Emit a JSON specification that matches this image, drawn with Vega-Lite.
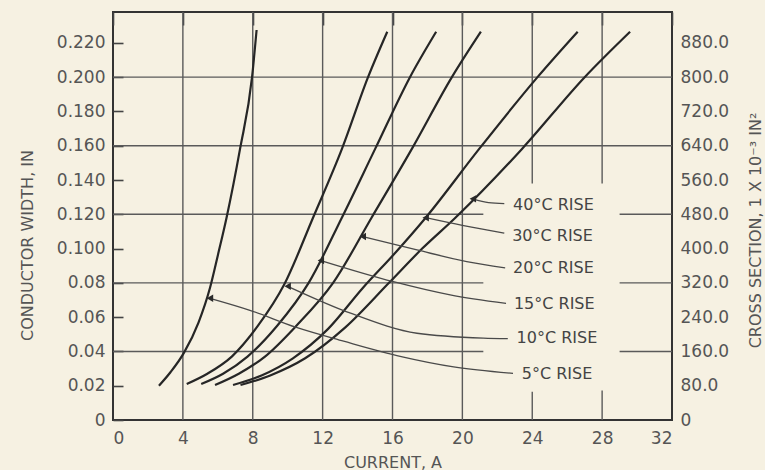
{
  "$schema": "https://vega.github.io/schema/vega-lite/v6.json",
  "width": 559,
  "height": 408,
  "autosize": {"type": "none"},
  "padding": {"left": 113, "top": 12, "right": 93, "bottom": 50},
  "background": "#f6f1e2",
  "config": {
    "view": {"stroke": "#333333", "strokeWidth": 2},
    "font": "DejaVu Sans",
    "axis": {
      "labelFont": "DejaVu Sans",
      "titleFont": "DejaVu Sans",
      "labelColor": "#555555",
      "titleColor": "#555555",
      "titleFontWeight": "normal",
      "labelFontSize": 17,
      "titleFontSize": 16,
      "ticks": false,
      "domain": false,
      "grid": true,
      "gridColor": "#444444",
      "gridWidth": 1.6,
      "gridOpacity": 1
    }
  },
  "datasets": {
    "hgrid": [
      {"y": 0.04, "x1": 0, "x2": 21.2}, {"y": 0.04, "x1": 29, "x2": 32},
      {"y": 0.08, "x1": 0, "x2": 21.2}, {"y": 0.08, "x1": 29, "x2": 32},
      {"y": 0.12, "x1": 0, "x2": 21.2}, {"y": 0.12, "x1": 29, "x2": 32},
      {"y": 0.16, "x1": 0, "x2": 32}, {"y": 0.2, "x1": 0, "x2": 32}
    ],
    "vgrid": [
      {"x": 4, "y1": 0, "y2": 0.238}, {"x": 8, "y1": 0, "y2": 0.238},
      {"x": 12, "y1": 0, "y2": 0.238}, {"x": 16, "y1": 0, "y2": 0.238},
      {"x": 20, "y1": 0, "y2": 0.238},
      {"x": 24, "y1": 0.138, "y2": 0.238}, {"x": 28, "y1": 0.138, "y2": 0.238},
      {"x": 24, "y1": 0, "y2": 0.0165}, {"x": 28, "y1": 0, "y2": 0.0172}
    ],
    "curves": [
      {"c": "5", "x": 2.63, "y": 0.02}, {"c": "5", "x": 3.3, "y": 0.028}, {"c": "5", "x": 4.05, "y": 0.039},
      {"c": "5", "x": 4.9, "y": 0.057}, {"c": "5", "x": 5.55, "y": 0.077}, {"c": "5", "x": 6.0, "y": 0.096},
      {"c": "5", "x": 6.5, "y": 0.118}, {"c": "5", "x": 7.27, "y": 0.158}, {"c": "5", "x": 7.96, "y": 0.2},
      {"c": "5", "x": 8.22, "y": 0.2275},
      {"c": "10", "x": 4.22, "y": 0.021}, {"c": "10", "x": 5.4, "y": 0.027}, {"c": "10", "x": 6.8, "y": 0.037},
      {"c": "10", "x": 8.3, "y": 0.055}, {"c": "10", "x": 9.8, "y": 0.079}, {"c": "10", "x": 11.45, "y": 0.118},
      {"c": "10", "x": 13.1, "y": 0.158}, {"c": "10", "x": 14.6, "y": 0.2}, {"c": "10", "x": 15.7, "y": 0.2265},
      {"c": "15", "x": 5.05, "y": 0.021}, {"c": "15", "x": 6.3, "y": 0.027}, {"c": "15", "x": 7.7, "y": 0.037},
      {"c": "15", "x": 9.4, "y": 0.055}, {"c": "15", "x": 11.2, "y": 0.08}, {"c": "15", "x": 13.1, "y": 0.118},
      {"c": "15", "x": 15.0, "y": 0.158}, {"c": "15", "x": 17.0, "y": 0.2}, {"c": "15", "x": 18.5, "y": 0.2265},
      {"c": "20", "x": 5.84, "y": 0.0204}, {"c": "20", "x": 7.2, "y": 0.027}, {"c": "20", "x": 8.7, "y": 0.037},
      {"c": "20", "x": 10.5, "y": 0.055}, {"c": "20", "x": 12.6, "y": 0.08}, {"c": "20", "x": 14.8, "y": 0.118},
      {"c": "20", "x": 17.1, "y": 0.158}, {"c": "20", "x": 19.4, "y": 0.2}, {"c": "20", "x": 21.06, "y": 0.2265},
      {"c": "30", "x": 6.87, "y": 0.0204}, {"c": "30", "x": 8.5, "y": 0.026}, {"c": "30", "x": 10.3, "y": 0.036},
      {"c": "30", "x": 12.3, "y": 0.053}, {"c": "30", "x": 14.3, "y": 0.077}, {"c": "30", "x": 16.2, "y": 0.098},
      {"c": "30", "x": 17.9, "y": 0.118}, {"c": "30", "x": 20.95, "y": 0.158}, {"c": "30", "x": 24.3, "y": 0.2},
      {"c": "30", "x": 26.6, "y": 0.2265},
      {"c": "40", "x": 7.3, "y": 0.0204}, {"c": "40", "x": 9.0, "y": 0.026}, {"c": "40", "x": 11.0, "y": 0.036},
      {"c": "40", "x": 13.3, "y": 0.054}, {"c": "40", "x": 15.8, "y": 0.08}, {"c": "40", "x": 17.7, "y": 0.1},
      {"c": "40", "x": 19.6, "y": 0.118}, {"c": "40", "x": 23.4, "y": 0.158}, {"c": "40", "x": 27.0, "y": 0.2},
      {"c": "40", "x": 29.6, "y": 0.2265}
    ],
    "leaders": [
      {"c": "5", "x": 5.55, "y": 0.071}, {"c": "5", "x": 7.84, "y": 0.064}, {"c": "5", "x": 10.5, "y": 0.054},
      {"c": "5", "x": 13.2, "y": 0.046}, {"c": "5", "x": 16.5, "y": 0.037}, {"c": "5", "x": 19.5, "y": 0.031},
      {"c": "5", "x": 22.9, "y": 0.0272},
      {"c": "10", "x": 10.0, "y": 0.078}, {"c": "10", "x": 13.6, "y": 0.0623}, {"c": "10", "x": 17.4, "y": 0.0506},
      {"c": "10", "x": 21.2, "y": 0.0478}, {"c": "10", "x": 22.6, "y": 0.0475},
      {"c": "15", "x": 11.9, "y": 0.093}, {"c": "15", "x": 16.05, "y": 0.0807}, {"c": "15", "x": 19.3, "y": 0.073},
      {"c": "15", "x": 22.5, "y": 0.068},
      {"c": "20", "x": 14.3, "y": 0.107}, {"c": "20", "x": 17.4, "y": 0.0992}, {"c": "20", "x": 20.25, "y": 0.0924},
      {"c": "20", "x": 22.45, "y": 0.0887},
      {"c": "30", "x": 17.9, "y": 0.118}, {"c": "30", "x": 20.0, "y": 0.1135}, {"c": "30", "x": 22.4, "y": 0.109},
      {"c": "40", "x": 20.6, "y": 0.129}, {"c": "40", "x": 21.5, "y": 0.1268}, {"c": "40", "x": 22.4, "y": 0.1262}
    ],
    "arrows": [
      {"c": "5", "x": 5.55, "y": 0.071}, {"c": "10", "x": 10.0, "y": 0.078}, {"c": "15", "x": 11.9, "y": 0.093},
      {"c": "20", "x": 14.3, "y": 0.107}, {"c": "30", "x": 17.9, "y": 0.118}, {"c": "40", "x": 20.6, "y": 0.129}
    ],
    "labels": [
      {"t": "40°C RISE", "x": 22.9, "y": 0.1254}, {"t": "30°C RISE", "x": 22.85, "y": 0.1074},
      {"t": "20°C RISE", "x": 22.9, "y": 0.0887}, {"t": "15°C RISE", "x": 22.95, "y": 0.0677},
      {"t": "10°C RISE", "x": 23.1, "y": 0.0478}, {"t": "5°C RISE", "x": 23.4, "y": 0.0268}
    ]
  },
  "layer": [
    {
      "data": {"name": "hgrid"},
      "mark": {"type": "rule", "color": "#5a5a5a", "strokeWidth": 1.4},
      "encoding": {
        "x": {
          "field": "x1", "type": "quantitative",
          "scale": {"domain": [0, 32], "nice": false},
          "axis": {
            "orient": "bottom",
            "title": "CURRENT, A",
            "values": [0, 2, 4, 6, 8, 10, 12, 14, 16, 18, 20, 22, 24, 26, 28, 30, 32],
            "labelExpr": "datum.value % 4 === 0 ? datum.label : ''",
            "gridDash": [13, 1000],
            "labelPadding": 10,
            "titleY": 42,
            "titleBaseline": "middle"
          }
        },
        "x2": {"field": "x2"},
        "y": {
          "field": "y", "type": "quantitative",
          "scale": {"domain": [0, 0.238], "nice": false, "zero": false},
          "axis": {
            "orient": "left",
            "title": "CONDUCTOR WIDTH, IN",
            "values": [0, 0.02, 0.04, 0.06, 0.08, 0.1, 0.12, 0.14, 0.16, 0.18, 0.2, 0.22],
            "labelExpr": "datum.value === 0 ? '0' : (datum.value >= 0.099 ? format(datum.value, '.3f') : format(datum.value, '.2f'))",
            "gridDash": [10, 1000],
            "labelPadding": 8,
            "titleAngle": 270,
            "titleX": -86,
            "titleY": 233,
            "titleAlign": "center",
            "titleBaseline": "middle"
          }
        }
      }
    },
    {
      "data": {"name": "vgrid"},
      "mark": {"type": "rule", "color": "#5a5a5a", "strokeWidth": 1.4},
      "encoding": {
        "x": {"field": "x", "type": "quantitative", "scale": {"domain": [0, 32], "nice": false}},
        "y": {
          "field": "y1", "type": "quantitative",
          "scale": {"domain": [0, 0.238], "nice": false, "zero": false},
          "axis": {
            "orient": "right",
            "title": "CROSS SECTION, 1 X 10⁻³ IN²",
            "values": [0, 0.02, 0.04, 0.06, 0.08, 0.1, 0.12, 0.14, 0.16, 0.18, 0.2, 0.22],
            "labelExpr": "datum.value === 0 ? '0' : format(datum.value * 4000, '.1f')",
            "gridDash": [12, 1000],
            "labelPadding": 8,
            "titleAngle": 270,
            "titleX": 83,
            "titleY": 218,
            "titleAlign": "center",
            "titleBaseline": "middle"
          }
        },
        "y2": {"field": "y2"}
      }
    },
    {
      "data": {"name": "curves"},
      "mark": {"type": "line", "color": "#262626", "strokeWidth": 2.2, "interpolate": "monotone"},
      "encoding": {
        "x": {"field": "x", "type": "quantitative", "scale": {"domain": [0, 32], "nice": false}},
        "y": {"field": "y", "type": "quantitative", "scale": {"domain": [0, 0.238], "nice": false, "zero": false}, "axis": null},
        "detail": {"field": "c", "type": "nominal"}
      }
    },
    {
      "data": {"name": "leaders"},
      "mark": {"type": "line", "color": "#4a4a4a", "strokeWidth": 1.3, "interpolate": "monotone"},
      "encoding": {
        "x": {"field": "x", "type": "quantitative", "scale": {"domain": [0, 32], "nice": false}},
        "y": {"field": "y", "type": "quantitative", "scale": {"domain": [0, 0.238], "nice": false, "zero": false}, "axis": null},
        "detail": {"field": "c", "type": "nominal"}
      }
    },
    {
      "data": {"name": "arrows"},
      "mark": {"type": "point", "shape": "triangle-left", "filled": true, "color": "#2a2a2a", "size": 55, "opacity": 1},
      "encoding": {
        "x": {"field": "x", "type": "quantitative", "scale": {"domain": [0, 32], "nice": false}},
        "y": {"field": "y", "type": "quantitative", "scale": {"domain": [0, 0.238], "nice": false, "zero": false}, "axis": null}
      }
    },
    {
      "data": {"name": "labels"},
      "mark": {"type": "text", "align": "left", "baseline": "middle", "fontSize": 16, "color": "#444444", "font": "DejaVu Sans"},
      "encoding": {
        "x": {"field": "x", "type": "quantitative", "scale": {"domain": [0, 32], "nice": false}},
        "y": {"field": "y", "type": "quantitative", "scale": {"domain": [0, 0.238], "nice": false, "zero": false}, "axis": null},
        "text": {"field": "t", "type": "nominal"}
      }
    }
  ],
  "resolve": {"axis": {"y": "independent"}}
}
